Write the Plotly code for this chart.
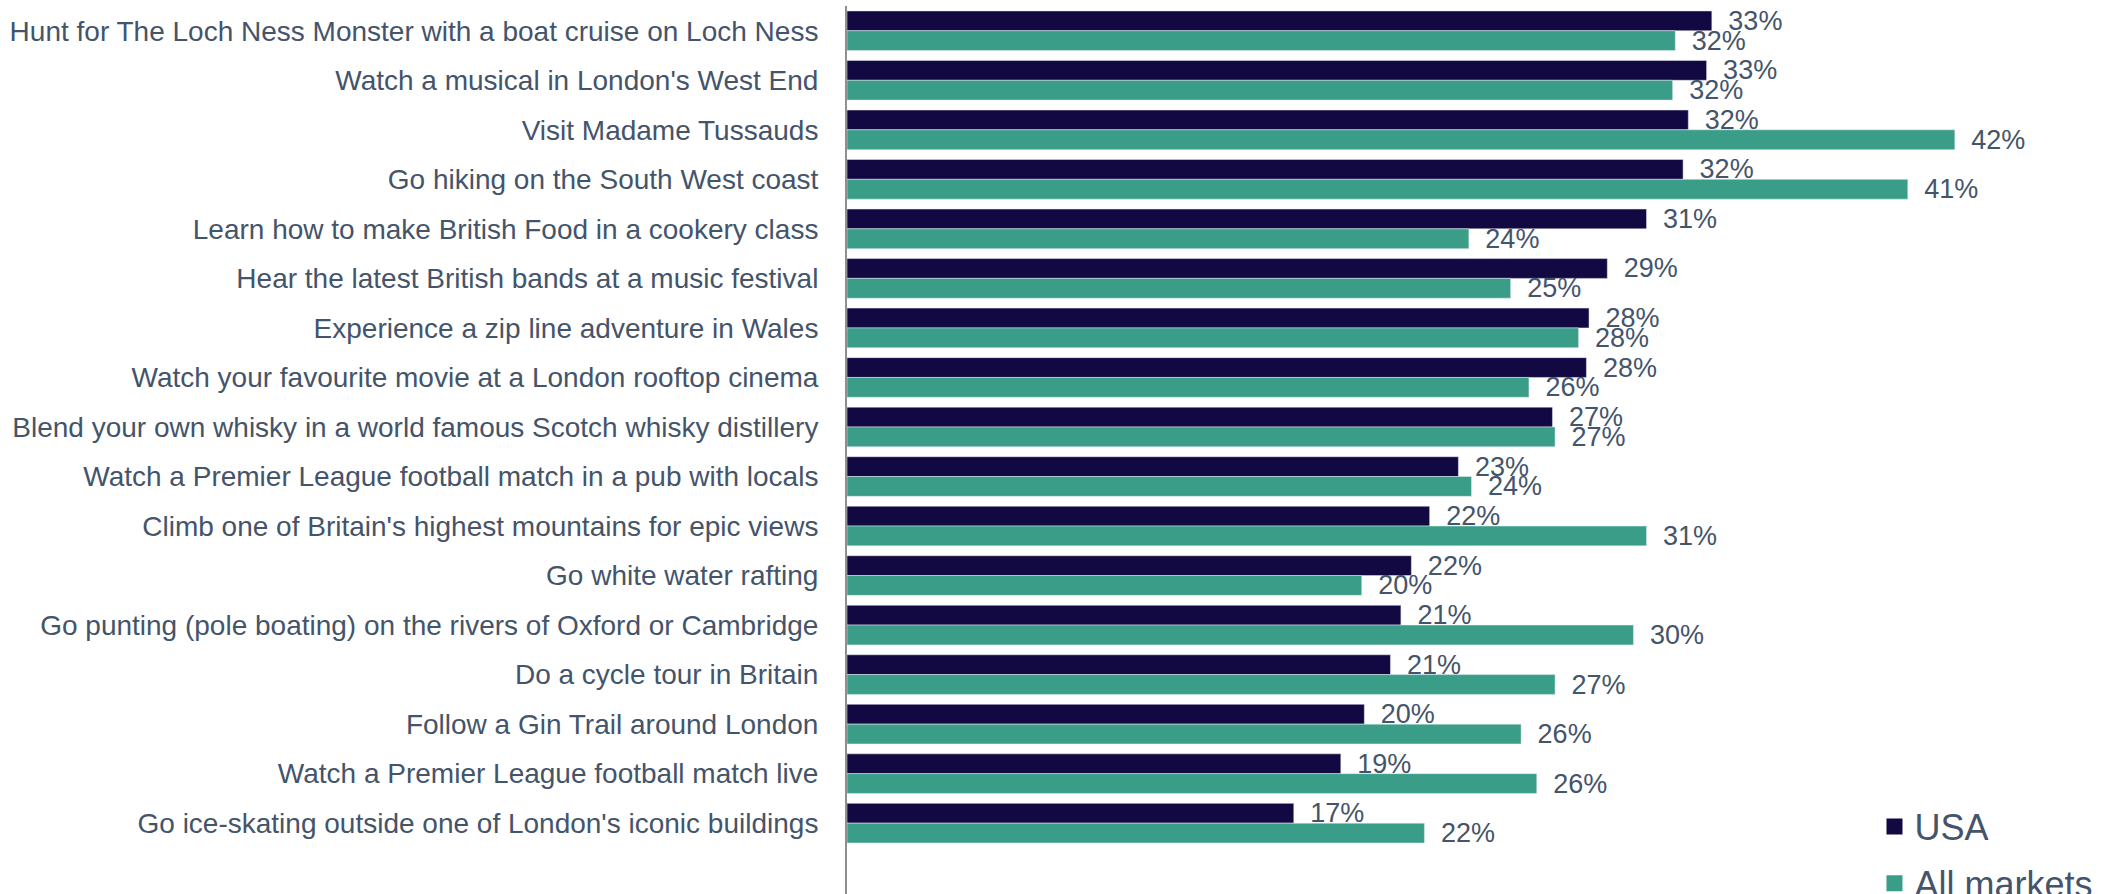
import plotly.graph_objects as go

categories = [
    "Hunt for The Loch Ness Monster with a boat cruise on Loch Ness",
    "Watch a musical in London's West End",
    "Visit Madame Tussauds",
    "Go hiking on the South West coast",
    "Learn how to make British Food in a cookery class",
    "Hear the latest British bands at a music festival",
    "Experience a zip line adventure in Wales",
    "Watch your favourite movie at a London rooftop cinema",
    "Blend your own whisky in a world famous Scotch whisky distillery",
    "Watch a Premier League football match in a pub with locals",
    "Climb one of Britain's highest mountains for epic views",
    "Go white water rafting",
    "Go punting (pole boating) on the rivers of Oxford or Cambridge",
    "Do a cycle tour in Britain",
    "Follow a Gin Trail around London",
    "Watch a Premier League football match live",
    "Go ice-skating outside one of London's iconic buildings",
]

usa = [33.1, 32.9, 32.2, 32.0, 30.6, 29.1, 28.4, 28.3, 27.0, 23.4, 22.3, 21.6, 21.2, 20.8, 19.8, 18.9, 17.1]
all_markets = [31.7, 31.6, 42.4, 40.6, 23.8, 25.4, 28.0, 26.1, 27.1, 23.9, 30.6, 19.7, 30.1, 27.1, 25.8, 26.4, 22.1]

usa_color = "#130942"
all_color = "#3A9D87"
text_color = "#44546A"
font_family = "Liberation Sans, Arial, sans-serif"

fig = go.Figure()
for name, vals, col in [("USA", usa, usa_color), ("All markets", all_markets, all_color)]:
    fig.add_trace(go.Bar(
        name=name, y=categories, x=vals, orientation="h",
        marker=dict(color=col),
        texttemplate="\u2002%{x:.0f}%", textposition="outside",
        textfont=dict(size=27, color=text_color, family=font_family),
        cliponaxis=False, constraintext="none",
        showlegend=False,
    ))
# legend entries
for name, col in [("USA", usa_color), ("All markets", all_color)]:
    fig.add_trace(go.Scatter(
        name=name, x=[None], y=[None], mode="markers",
        marker=dict(symbol="square", size=19, color=col),
        legendgroup=name, showlegend=True,
    ))

fig.update_layout(
    width=2121, height=894,
    margin=dict(l=847, r=0, t=6, b=0, autoexpand=False),
    barmode="group", bargap=0.2, bargroupgap=0,
    plot_bgcolor="white", paper_bgcolor="white",
    font=dict(family=font_family, color=text_color, size=27),
    showlegend=True,
    legend=dict(
        x=0.8065, y=0.1098, xanchor="left", yanchor="top",
        font=dict(size=36, color=text_color, family=font_family),
        traceorder="grouped", bgcolor="rgba(0,0,0,0)",
        itemsizing="trace", tracegroupgap=7,
    ),
)
fig.update_xaxes(range=[0, 48.76], visible=False, showgrid=False, zeroline=False, automargin=False)
fig.update_yaxes(
    type="category", categoryorder="array", categoryarray=categories,
    range=[17.43, -0.5], showline=True, linecolor="#8f8f8f", linewidth=2,
    showgrid=False, ticks="", ticklabelstandoff=21, automargin=False,
    tickfont=dict(size=28, color=text_color, family=font_family),
)

fig.write_html(
    "out.html",
    config={"displayModeBar": False},
    post_script="document.body.style.margin='0';document.body.style.overflow='hidden';",
)
